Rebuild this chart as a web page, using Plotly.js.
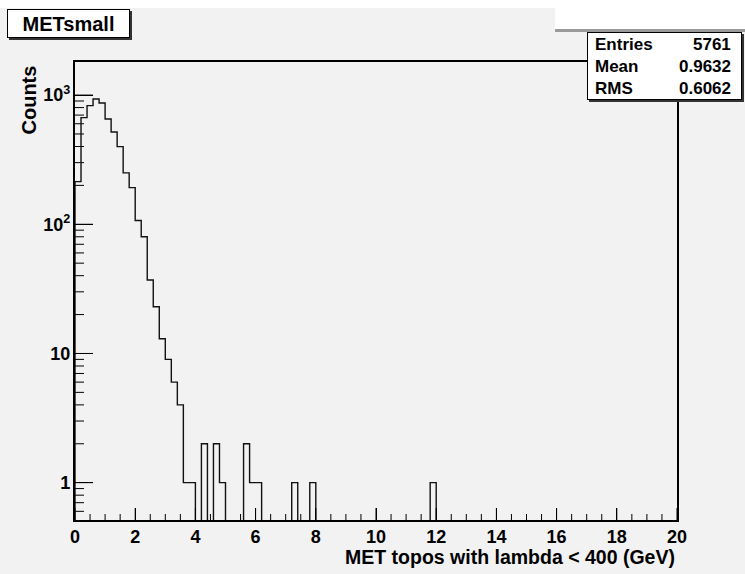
<!DOCTYPE html>
<html><head><meta charset="utf-8">
<script src="https://cdn.plot.ly/plotly-3.0.1.min.js"></script>
<style>html,body{margin:0;padding:0;background:#f2f2f2}</style>
</head><body><div id="chart" style="width:745px;height:574px"></div>
<script>
// ---- data ----
const binWidth = 0.2;
const xMin = 0, xMax = 20;
const counts = [
  214, 669, 828, 933, 869, 653, 518, 399, 250, 192,
  107, 80, 37, 23, 13, 9, 6, 4, 1, 1,
  0, 2, 0, 2, 1, 0, 0, 0, 2, 1,
  1, 0, 0, 0, 0, 0, 1, 0, 0, 1,
  0, 0, 0, 0, 0, 0, 0, 0, 0, 0,
  0, 0, 0, 0, 0, 0, 0, 0, 0, 1,
  0, 0, 0, 0, 0, 0, 0, 0, 0, 0,
  0, 0, 0, 0, 0, 0, 0, 0, 0, 0,
  0, 0, 0, 0, 0, 0, 0, 0, 0, 0,
  0, 0, 0, 0, 0, 0, 0, 0, 0, 0
];
const xMajorStep = 2, xMinorStep = 0.5;
const yDecades = [1, 10, 100, 1000];
const histTitle = 'METsmall';
const xTitle = 'MET topos with lambda &lt; 400 (GeV)';
const yTitle = 'Counts';
const statLabels = ['Entries', 'Mean', 'RMS'];
const statValues = ['5761', '0.9632', '0.6062'];

// ---- build step outline (ROOT style) ----
const yRangeLog = [-0.289, 3.256];
const floorVal = Math.pow(10, yRangeLog[0] - 1); // below the frame -> clipped
const xs = [xMin], ys = [floorVal];
counts.forEach((c, i) => { xs.push(xMin + i * binWidth); ys.push(c > 0 ? c : floorVal); });
xs.push(xMax); ys.push(floorVal);

// ---- pixel helpers for decorations ----
const L = 75, R = 677, T = 62, B = 520;
const px = x => (x - L) / (R - L);
const py = y => (B - y) / (B - T);
const FONT = 'Liberation Sans, Arial, Helvetica, sans-serif';

// ---- ROOT-style inside tick marks, derived from the axis ranges ----
const ySpan = yRangeLog[1] - yRangeLog[0];
const pxToLogY = p => p * ySpan / (B - T);
const pxToX = p => p * (xMax - xMin) / (R - L);
const tx = [], ty = [];
const yBot = Math.pow(10, yRangeLog[0]);
for (let v = xMin; v <= xMax + 1e-9; v += xMinorStep) {
  const major = Math.abs(v / xMajorStep - Math.round(v / xMajorStep)) < 1e-6;
  const len = major ? 12 : 6;
  tx.push(v, v, null); ty.push(yBot, Math.pow(10, yRangeLog[0] + pxToLogY(len)), null);
}
[0.1].concat(yDecades).forEach(d => {
  for (let k = 1; k <= 9; k++) {
    const val = k * d, lg = Math.log10(val);
    if (lg < yRangeLog[0] || lg > yRangeLog[1]) continue;
    const len = k === 1 ? 18 : 9;
    tx.push(xMin, xMin + pxToX(len), null); ty.push(val, val, null);
  }
});

// box drawn as an annotation: left, top, right, bottom in page pixels
function box(l, t, r, b, fill, border, text, fsize) {
  const bw = border ? 1 : 0;
  return {xref:'paper', yref:'paper', x:px((l + r) / 2), y:py((t + b) / 2), xanchor:'center', yanchor:'middle',
    text: text || '&nbsp;', showarrow:false, width:(r - l) - 2 * bw, height:(b - t) - 2 * bw, borderpad:0,
    bgcolor:fill, bordercolor: border || 'rgba(0,0,0,0)', borderwidth:bw,
    font:{family:FONT, size:fsize || 1, color:'#000'}};
}

const annotations = [
  box(0, 0, 745, 8, '#ffffff'),
  box(555, 28, 745, 32, '#9a9a9a'),
  box(555, 0, 745, 29, '#ffffff'),
  box(9, 11, 132, 40, '#333333'),
  box(7, 9, 130, 38, '#ffffff', '#000000', '<b>' + histTitle + '</b>', 20),
  box(589, 34, 744, 102, '#333333'),
  box(587, 32, 742, 100, '#ffffff', '#000000'),
  {xref:'paper', yref:'paper', x:px(677), y:py(557), text:'<b>'+xTitle+'</b>', showarrow:false, xanchor:'right', yanchor:'middle', font:{family:FONT, size:19.5, color:'#000'}},
  {xref:'paper', yref:'paper', x:px(28), y:py(64), text:'<b>'+yTitle+'</b>', textangle:-90, showarrow:false, xanchor:'center', yanchor:'top', font:{family:FONT, size:20, color:'#000'}}
];
const rowY = [44, 67, 89];
statLabels.forEach((lab, i) => {
  annotations.push({xref:'paper', yref:'paper', x:px(593), y:py(rowY[i]), text:'<b>'+lab+'</b>', showarrow:false, xanchor:'left', yanchor:'middle', font:{family:FONT, size:17, color:'#000'}});
  annotations.push({xref:'paper', yref:'paper', x:px(733), y:py(rowY[i]), text:'<b>'+statValues[i]+'</b>', showarrow:false, xanchor:'right', yanchor:'middle', font:{family:FONT, size:17, color:'#000'}});
});

const trace = {
  type:'scatter', mode:'lines', x:xs, y:ys,
  line:{shape:'hv', color:'#111', width:1.4},
  hoverinfo:'skip'
};
const tickTrace = {
  type:'scatter', mode:'lines', x:tx, y:ty, connectgaps:false,
  line:{color:'#000', width:1}, hoverinfo:'skip'
};

const layout = {
  width:745, height:574,
  margin:{l:L, r:745-R, t:T, b:574-B},
  paper_bgcolor:'#f2f2f2', plot_bgcolor:'#f2f2f2',
  showlegend:false,
  font:{family:FONT, color:'#000'},
  xaxis:{
    range:[xMin, xMax], tickmode:'linear', tick0:0, dtick:xMajorStep,
    ticks:'inside', ticklen:12, tickwidth:1, tickcolor:'#000',
    showline:true, mirror:true, linecolor:'#000', linewidth:1.5, showgrid:false, zeroline:false,
    tickfont:{family:FONT, size:18, color:'#000', weight:'bold'}
  },
  yaxis:{
    type:'log', range:yRangeLog, tickmode:'linear', tick0:0, dtick:1, exponentformat:'power',
    ticks:'inside', ticklen:18, tickwidth:1, tickcolor:'#000',
    showline:true, mirror:true, linecolor:'#000', linewidth:1.5, showgrid:false, zeroline:false,
    tickfont:{family:FONT, size:14.4, color:'#000', weight:'bold'}
  },
  annotations:annotations
};

Plotly.newPlot('chart', [tickTrace, trace], layout, {displayModeBar:false});
</script></body></html>
